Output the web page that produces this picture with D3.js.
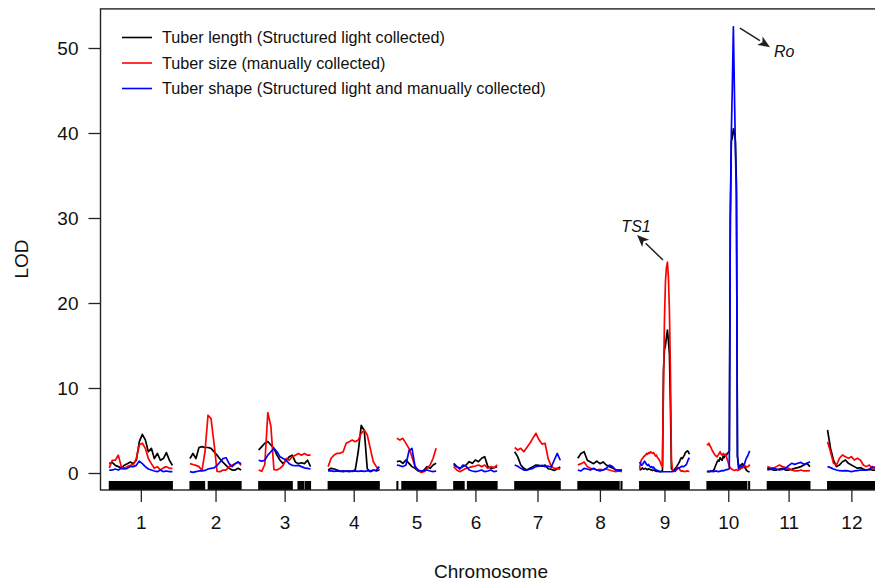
<!DOCTYPE html>
<html>
<head>
<meta charset="utf-8">
<style>
    body { margin: 0; background: #fff; }
    svg { display: block; font-family: "Liberation Sans", Arial, Helvetica, sans-serif; }
    .lod { fill: none; stroke-width: 1.7px; stroke-linejoin: round; }
    .axis text { font-size: 19px; fill: #111; }
    .axis line { stroke: #222; stroke-width: 1.3px; }
    .legend text { font-size: 16.2px; fill: #111; }
    .note { font-size: 16px; font-style: italic; fill: #111; }
</style>
</head>
<body>
<script src="https://d3js.org/d3.v7.min.js"></script>
<script>
// chromosomes (lengths in cM), gap between chromosomes as in R/qtl
var chrNames = ["1", "2", "3", "4", "5", "6", "7", "8", "9", "10", "11", "12"];
var chrLengths = [90, 73, 74, 73, 56, 62, 65, 63, 71, 61, 61, 68];
var chrGap = 25;

// marker rug, dense stretches per chromosome [from, to] in cM
var markerBlocks = [
    [[0, 90]],
    [[0, 21], [26, 73]],
    [[0, 48], [56, 64], [66, 74]],
    [[0, 73]],
    [[0, 1.5], [7, 56]],
    [[0, 15], [19.5, 62]],
    [[0, 65]],
    [[0, 59], [61.5, 63]],
    [[0, 71]],
    [[0, 57], [59.5, 61]],
    [[0, 61]],
    [[0, 68]]
];

// LOD profiles, evenly spaced along each chromosome
var lodLength = [
    [1.1, 1.25, 0.9, 0.75, 0.6, 0.9, 1.1, 1.3, 1.1, 1.5, 3.7, 4.55, 3.9, 2.5, 2.9, 1.7, 2.3, 1.5, 1.7, 2.4, 1.5, 0.9],
    [1.7, 2.3, 1.7, 3.0, 3.1, 3.0, 3.0, 2.9, 2.5, 2.1, 1.65, 1.25, 0.9, 0.55, 0.35, 0.35, 0.55, 0.35],
    [2.7, 3.1, 3.5, 3.7, 3.3, 2.9, 2.1, 1.5, 1.1, 1.5, 1.9, 2.1, 1.3, 1.1, 1.2, 1.1, 1.5, 0.75],
    [0.35, 0.55, 0.47, 0.35, 0.24, 0.16, 0.24, 0.16, 0.24, 0.35, 2.5, 5.6, 5.0, 0.5, 0.16, 0.35, 0.24, 0.35],
    [1.33, 1.41, 1.14, 1.53, 1.14, 0.75, 0.55, 0.24, 0.16, 0.35, 0.75, 0.55, 0.94, 1.14],
    [1.14, 0.75, 0.55, 0.75, 0.94, 1.33, 1.14, 1.53, 1.33, 1.73, 1.92, 0.75, 0.55, 0.63, 0.75],
    [2.5, 1.9, 0.94, 0.55, 0.35, 0.55, 0.75, 0.94, 0.9, 0.8, 0.94, 0.5, 0.45, 0.3, 0.5, 0.7],
    [1.73, 2.3, 2.5, 1.5, 1.3, 1.1, 1.4, 1.1, 1.3, 0.94, 0.75, 0.6, 0.35, 0.35, 0.35],
    [0.35, 0.4, 0.5, 0.6, 0.45, 0.5, 0.55, 0.45, 0.4, 0.5, 0.45, 0.4, 0.35, 0.3, 0.35, 0.3, 0.25, 0.2, 0.2, 0.2, 0.15, 0.15, 0.2, 0.3,
     12, 14.5, 15, 16, 16.8, 15.5, 14, 8, 0.5,
     0.35, 0.3, 0.4, 0.55, 0.7, 0.9, 1.1, 1.3, 1.6, 1.8, 1.7, 1.9, 2.1, 2.4, 2.5, 2.6, 2.5, 2.2],
    [0.15, 0.15, 0.2, 0.15, 0.2, 0.2, 0.25, 0.4, 0.7, 1.0, 1.3, 1.5, 1.4, 1.8, 1.6, 1.5, 2.0, 1.8, 2.2, 2.0, 2.3, 2.4, 2.6,
     30, 39, 39.5, 40.5, 40, 39, 34, 2,
     1.0, 0.8, 0.9, 1.0, 1.1, 0.9, 0.7, 0.5, 0.3, 0.2, 0.15, 0.15],
    [0.55, 0.47, 0.35, 0.35, 0.47, 0.55, 0.35, 0.35, 0.43, 0.55, 0.63, 0.75, 0.94, 1.14, 0.75],
    [5.06, 2.9, 1.53, 0.75, 0.94, 1.33, 1.53, 1.14, 0.94, 0.75, 0.55, 0.63, 0.47, 0.35, 0.43, 0.35, 0.35]
];

var lodSize = [
    [0.6, 1.5, 1.5, 2.1, 0.75, 0.55, 0.75, 0.9, 1.0, 1.7, 3.3, 3.5, 2.9, 1.7, 1.1, 0.55, 0.75, 0.35, 0.6, 0.75, 0.55, 0.55],
    [1.1, 1.0, 0.9, 0.75, 0.3, 2.5, 6.8, 6.4, 3.5, 0.2, 0.16, 0.35, 0.35, 0.75, 0.9, 1.1, 1.3, 0.9],
    [0.35, 0.2, 1.0, 7.1, 5.5, 0.4, 0.35, 0.55, 0.9, 1.7, 1.5, 1.9, 2.1, 2.3, 2.1, 2.3, 2.1, 2.1],
    [0.75, 1.73, 2.12, 2.31, 2.31, 2.5, 3.49, 3.69, 3.88, 3.69, 3.88, 4.67, 5.06, 4.47, 2.9, 1.33, 0.75, 0.35],
    [4.08, 3.88, 4.08, 3.49, 2.9, 1.92, 0.75, 0.35, 0.08, 0.16, 0.55, 0.94, 1.73, 2.9],
    [0.75, 0.35, 0.16, 0.35, 0.55, 0.63, 0.75, 0.82, 0.94, 0.75, 0.94, 0.55, 0.75, 0.63, 0.94],
    [3.0, 2.7, 2.9, 2.5, 3.0, 3.5, 4.1, 4.67, 3.9, 3.4, 3.5, 1.7, 0.8, 0.55, 0.55, 0.45],
    [0.94, 1.1, 1.3, 0.75, 0.55, 0.47, 0.35, 0.43, 0.35, 0.47, 0.35, 0.24, 0.16, 0.24, 0.16],
    [0.5, 1.2, 1.6, 1.7, 1.9, 2.0, 2.1, 2.3, 2.2, 2.4, 2.3, 2.5, 2.4, 2.3, 2.4, 2.2, 2.0, 2.1, 1.8, 1.7, 1.5, 1.2, 0.9, 0.8,
     10, 18, 22.5, 24.2, 24.8, 23, 19, 12, 1.5,
     0.4, 0.3, 0.2, 0.2, 0.5, 0.7, 0.6, 0.5, 0.3, 0.2, 0.25, 0.2, 0.15, 0.2, 0.2, 0.25, 0.2, 0.2],
    [3.4, 3.3, 3.5, 3.2, 3.0, 2.7, 2.5, 2.3, 2.1, 2.0, 1.9, 2.1, 2.3, 2.5, 2.2, 2.1, 2.3, 2.1, 2.2, 2.0, 1.6, 1.2, 0.8,
     0.6, 0.5, 0.4, 0.35, 0.3, 0.35, 0.4, 0.3,
     0.35, 0.4, 0.5, 0.55, 0.6, 0.7, 0.9, 0.8, 0.7, 0.75, 0.8, 1.0],
    [0.75, 0.63, 0.55, 0.75, 0.94, 0.75, 0.63, 0.55, 0.35, 0.24, 0.24, 0.35, 0.24, 0.24, 0.27],
    [3.69, 2.5, 1.14, 0.94, 1.73, 2.12, 1.92, 1.73, 1.92, 1.53, 1.73, 1.53, 0.94, 0.75, 0.94, 0.55, 0.75]
];

var lodShape = [
    [0.35, 0.35, 0.47, 0.35, 0.55, 0.47, 0.55, 0.75, 0.75, 0.9, 1.4, 1.1, 0.75, 0.47, 0.35, 0.24, 0.16, 0.35, 0.16, 0.24, 0.16, 0.16],
    [0.16, 0.08, 0.16, 0.24, 0.24, 0.3, 0.47, 0.55, 0.6, 0.9, 1.3, 1.7, 1.8, 1.1, 0.75, 1.1, 1.3, 1.1],
    [1.5, 1.4, 1.5, 2.1, 2.5, 2.9, 2.5, 1.9, 1.7, 1.5, 1.1, 0.9, 0.85, 0.9, 0.75, 0.6, 0.55, 0.47],
    [0.24, 0.24, 0.2, 0.24, 0.2, 0.24, 0.2, 0.24, 0.2, 0.24, 0.2, 0.24, 0.2, 0.24, 0.24, 0.3, 0.35, 0.75],
    [0.94, 0.86, 0.75, 0.94, 2.6, 2.9, 0.8, 0.35, 0.24, 0.24, 0.35, 0.24, 0.16, 0.24],
    [0.94, 0.75, 0.47, 0.94, 0.82, 0.35, 0.24, 0.16, 0.24, 0.35, 0.16, 0.24, 0.35, 0.16, 0.24],
    [0.94, 0.8, 0.55, 0.35, 0.35, 0.45, 0.55, 0.75, 0.8, 0.9, 0.75, 0.8, 0.7, 1.5, 2.3, 1.5],
    [0.35, 0.24, 0.55, 0.47, 0.35, 0.55, 0.35, 0.24, 0.35, 0.55, 0.94, 0.75, 0.35, 0.27, 0.35],
    [1.3, 1.1, 0.9, 1.0, 1.2, 1.4, 1.2, 1.0, 0.9, 1.0, 0.8, 0.7, 0.75, 0.6, 0.7, 0.5, 0.4, 0.35, 0.3, 0.25, 0.2, 0.15, 0.15, 0.15,
     0.15, 0.15, 0.15, 0.15, 0.15, 0.15, 0.15, 0.15, 0.15,
     0.15, 0.2, 0.25, 0.3, 0.4, 0.5, 0.55, 0.6, 0.7, 0.75, 0.8, 0.75, 0.8, 0.9, 1.0, 1.3, 1.6, 1.8],
    [0.2, 0.2, 0.15, 0.2, 0.25, 0.2, 0.15, 0.2, 0.2, 0.25, 0.2, 0.15, 0.2, 0.2, 0.25, 0.3, 0.25, 0.3, 0.35, 0.4, 0.4, 0.45, 0.5,
     30, 40, 45.6, 52.5, 45, 38, 32.5, 2,
     0.5, 0.6, 0.7, 0.75, 0.8, 0.9, 1.1, 1.5, 1.8, 2.0, 2.3, 2.6],
    [0.35, 0.43, 0.55, 0.47, 0.35, 0.43, 0.55, 0.86, 1.14, 1.02, 1.14, 1.25, 1.02, 1.14, 1.33],
    [0.75, 0.63, 0.47, 0.35, 0.27, 0.24, 0.27, 0.24, 0.16, 0.24, 0.27, 0.35, 0.35, 0.35, 0.43, 0.75, 0.55]
];

var traitNames = [
    "Tuber length (Structured light collected)",
    "Tuber size (manually collected)",
    "Tuber shape (Structured light and manually collected)"
];
var traitColors = ["#000000", "#ff0000", "#0000ff"];
var yTicks = [0, 10, 20, 30, 40, 50];

// arrows: genome position (cM) and LOD of label, arrow tail and arrow head
var notes = [
    {label: "Ro",  text: [960.2, 48.9], tail: [911.7, 52.35], head: [954.5, 50.1], anchor: "start"},
    {label: "TS1", text: [763.5, 28.35], tail: [801.9, 25.06], head: [764.9, 28.0], anchor: "middle"}
];

var W = 875, H = 582;

// cumulative chromosome starts
var chrStart = [];
var pos = chrGap / 2;
chrLengths.forEach(function(L) { chrStart.push(pos); pos += L + chrGap; });
var total = pos - chrGap / 2;

var x = d3.scaleLinear().domain([0, total]).range([100.5, 884]);
var y = d3.scaleLinear().domain([0, 50]).range([473, 48]);
var yBottom = y(-2), yTop = y(54.6);

var svg = d3.select("body").append("svg")
    .attr("width", W).attr("height", H);

svg.append("rect").attr("width", W).attr("height", H).attr("fill", "#fff");

// marker rug
var rug = svg.append("g");
markerBlocks.forEach(function(blocks, c) {
    blocks.forEach(function(b) {
        rug.append("rect")
            .attr("x", x(chrStart[c] + b[0]) - 0.5)
            .attr("width", x(chrStart[c] + b[1]) - x(chrStart[c] + b[0]) + 1)
            .attr("y", yBottom - 9)
            .attr("height", 9)
            .attr("fill", "#000");
    });
});

// LOD curves
var line = d3.line()
    .x(function(d) { return x(d[0]); })
    .y(function(d) { return y(d[1]); });

[lodLength, lodSize, lodShape].forEach(function(series, t) {
    var g = svg.append("g");
    series.forEach(function(vals, c) {
        var n = vals.length, L = chrLengths[c];
        var pts = vals.map(function(v, i) { return [chrStart[c] + i * L / (n - 1), v]; });
        g.append("path")
            .datum(pts)
            .attr("class", "lod")
            .attr("stroke", traitColors[t])
            .attr("d", line);
    });
});

// box
svg.append("rect")
    .attr("x", x(0)).attr("y", yTop)
    .attr("width", x(total) - x(0)).attr("height", yBottom - yTop)
    .attr("fill", "none").attr("stroke", "#222").attr("stroke-width", 1.4);

// axes
var yAxis = svg.append("g")
    .attr("class", "axis")
    .attr("transform", "translate(" + x(0) + ",0)")
    .call(d3.axisLeft(y).tickValues(yTicks).tickSize(12).tickPadding(10));
yAxis.select(".domain").remove();

var mids = chrLengths.map(function(L, c) { return chrStart[c] + L / 2; });
var xAxis = svg.append("g")
    .attr("class", "axis")
    .attr("transform", "translate(0," + yBottom + ")")
    .call(d3.axisBottom(x).tickValues(mids).tickSize(12).tickPadding(14)
        .tickFormat(function(d, i) { return chrNames[i]; }));
xAxis.select(".domain").remove();
svg.selectAll(".axis text").attr("font-family", null).attr("font-size", null);

svg.append("text")
    .attr("x", 491).attr("y", 578)
    .attr("text-anchor", "middle")
    .style("font-size", "19px").style("fill", "#111")
    .text("Chromosome");

svg.append("text")
    .attr("transform", "translate(28,259)rotate(-90)")
    .attr("text-anchor", "middle")
    .style("font-size", "19px").style("fill", "#111")
    .text("LOD");

// legend
var legend = svg.append("g").attr("class", "legend");
traitNames.forEach(function(name, i) {
    var ly = 37.5 + i * 25.5;
    legend.append("line")
        .attr("x1", 122).attr("x2", 152).attr("y1", ly).attr("y2", ly)
        .attr("stroke", traitColors[i]).attr("stroke-width", 1.6);
    legend.append("text")
        .attr("x", 162).attr("y", ly).attr("dy", "0.35em")
        .text(name);
});

// annotation arrows
notes.forEach(function(n) {
    var x1 = x(n.tail[0]), y1 = y(n.tail[1]), x2 = x(n.head[0]), y2 = y(n.head[1]);
    var ang = Math.atan2(y2 - y1, x2 - x1), len = 12, half = 5;
    var bx = x2 - len * Math.cos(ang), by = y2 - len * Math.sin(ang);
    svg.append("line")
        .attr("x1", x1).attr("y1", y1).attr("x2", bx).attr("y2", by)
        .attr("stroke", "#231f20").attr("stroke-width", 1.5);
    var p = [
        [x2, y2],
        [bx + half * Math.sin(ang), by - half * Math.cos(ang)],
        [x2 - (len - 3) * Math.cos(ang), y2 - (len - 3) * Math.sin(ang)],
        [bx - half * Math.sin(ang), by + half * Math.cos(ang)]
    ];
    svg.append("polygon")
        .attr("points", p.map(function(q) { return q.join(","); }).join(" "))
        .attr("fill", "#231f20");
    svg.append("text")
        .attr("class", "note")
        .attr("x", x(n.text[0])).attr("y", y(n.text[1]))
        .attr("text-anchor", n.anchor)
        .text(n.label);
});
</script>
</body>
</html>
